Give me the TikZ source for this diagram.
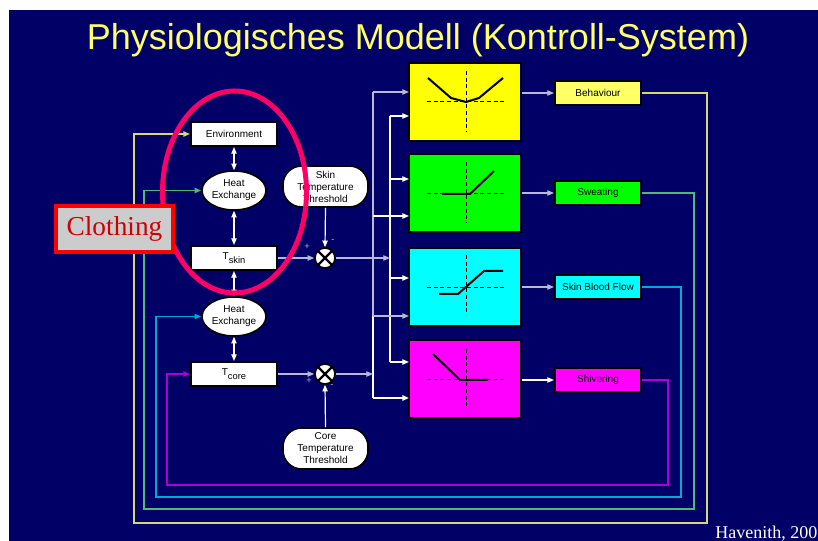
\documentclass[tikz,border=0pt]{standalone}
\usepackage{fontspec}
\setmainfont{Liberation Serif}
\setsansfont{Liberation Sans}
\usetikzlibrary{arrows.meta,shapes.geometric}
\definecolor{navy}{RGB}{0,0,102}
\definecolor{titleyel}{RGB}{255,255,102}
\definecolor{fnyellow}{RGB}{255,255,0}
\definecolor{fngreen}{RGB}{0,255,0}
\definecolor{fncyan}{RGB}{0,255,255}
\definecolor{fnmag}{RGB}{255,0,255}
\definecolor{pinkring}{RGB}{255,0,102}
\definecolor{fbyel}{RGB}{215,215,115}
\definecolor{fbgreen}{RGB}{80,185,120}
\definecolor{fbcyan}{RGB}{0,170,215}
\definecolor{fbmag}{RGB}{170,0,210}
\definecolor{busgray}{RGB}{185,185,215}
\definecolor{clothred}{RGB}{204,0,0}
\definecolor{clothgray}{RGB}{204,204,204}
\definecolor{signgray}{RGB}{170,170,200}
\begin{document}
\begin{tikzpicture}[x=0.75pt,y=-0.75pt,
  lbl/.style={font=\sffamily\fontsize{7.5}{9}\selectfont, text=black, align=center},
  wbox/.style={lbl, draw=black, line width=1.5pt, fill=white, minimum width=64.5pt, minimum height=18pt, inner sep=0pt},
  hex/.style={lbl, ellipse, draw=black, line width=1.2pt, fill=white, minimum width=48pt, minimum height=29.25pt, inner sep=0pt},
  thr/.style={lbl, draw=black, line width=1.2pt, fill=white, rounded corners=14pt, minimum width=63.75pt, minimum height=30.75pt, inner sep=0pt},
  fnbox/.style={draw=black, line width=1.5pt, minimum width=84pt, minimum height=58.5pt, inner sep=0pt},
  obox/.style={lbl, draw=black, line width=1.5pt, minimum width=64.5pt, minimum height=18pt, inner sep=0pt},
  cmp/.style={circle, draw=black, line width=1.2pt, fill=white, minimum size=15pt, inner sep=0pt},
  arr/.style={-{Triangle[length=5pt,width=4pt]}},
  darr/.style={{Triangle[length=5pt,width=4pt]}-{Triangle[length=5pt,width=4pt]}},
  wline/.style={white, line width=0.9pt},
  gline/.style={busgray, line width=0.9pt},
  fbline/.style={line width=1.1pt},
  axisln/.style={black, dash pattern=on 3pt off 2pt, line width=0.75pt},
  fncurve/.style={black, line width=1.5pt, line join=round},
  sign/.style={text=signgray, font=\sffamily\fontsize{7}{7}\selectfont, inner sep=0pt},
]
% background
\fill[white] (0,0) rectangle (818,541);
\fill[navy] (9,10) rectangle (818,541);
\useasboundingbox (0,0) rectangle (818,541);

% title
\node[anchor=base, text=titleyel, font=\sffamily\fontsize{27}{30}\selectfont, inner sep=0pt] (title) at (418,50) {Physiologisches Modell (Kontroll-System)};

% left column nodes
\node[wbox] (env) at (234,134) {Environment};
\node[hex] (he1) at (234,190.5) {Heat\\Exchange};
\node[thr] (sth) at (325.5,186.5) {Skin\\Temperature\\Threshold};
\node[wbox] (tskin) at (234,258) {T\raisebox{-3pt}{\fontsize{7}{8}\selectfont skin}};
\node[hex] (he2) at (234,316.5) {Heat\\Exchange};
\node[wbox] (tcore) at (234,374) {T\raisebox{-3pt}{\fontsize{7}{8}\selectfont core}};
\node[cmp] (c1) at (325,258) {};
\node[cmp] (c2) at (325,374) {};
\node[thr] (cth) at (325.5,448.5) {Core\\Temperature\\Threshold};
\draw[black, line width=1.6pt] (c1.45) -- (c1.225) (c1.135) -- (c1.315);
\draw[black, line width=1.6pt] (c2.45) -- (c2.225) (c2.135) -- (c2.315);

% function boxes
\node[fnbox, fill=fnyellow] (fy) at (465,102) {};
\node[fnbox, fill=fngreen] (fg) at (465,193.5) {};
\node[fnbox, fill=fncyan] (fc) at (465,287) {};
\node[fnbox, fill=fnmag] (fm) at (465,379) {};

% output boxes
\node[obox, fill=titleyel] (ob) at (598,93) {Behaviour};
\node[obox, fill=fngreen] (os) at (598,193) {Sweating};
\node[obox, fill=fncyan] (oc) at (598,287) {Skin Blood Flow};
\node[obox, fill=fnmag] (om) at (598,380) {Shivering};

% function curves
\draw[axisln] (466,71) -- (466,132) (427,102) -- (504,102);
\draw[fncurve] (428,78) -- (451,98) -- (466,102) -- (479,98) -- (503,78);
\draw[axisln] (466,162) -- (466,223) (427,194) -- (504,194);
\draw[fncurve] (442,194) -- (470,194) -- (494,171);
\draw[axisln] (466,255) -- (466,315) (427,288) -- (504,288);
\draw[fncurve] (439,294) -- (458,294) -- (484,271) -- (503,271);
\draw[axisln] (466,349) -- (466,408) (427,380) -- (504,380);
\draw[fncurve] (433,354) -- (460,380) -- (488,380);

% bus coordinates
\coordinate (bus1) at (373,0);
\coordinate (bus2) at (390,0);
\coordinate (fy1) at (409,92);
\coordinate (fy2) at (409,116);
\coordinate (fg2) at (409,179);
\coordinate (fg1) at (409,216);
\coordinate (fc2) at (409,278);
\coordinate (fc1) at (409,316);
\coordinate (fm2) at (409,362);
\coordinate (fm1) at (409,398);

% buses
\draw[gline] (bus1 |- fy1) -- (bus1 |- fc1);
\draw[wline] (bus1 |- fc1) -- (bus1 |- fm1);
\draw[wline] (bus2 |- fy2) -- (bus2 |- fm2);
\draw[gline, arr] (bus1 |- fy1) -- (fy1);
\draw[wline, arr] (bus2 |- fy2) -- (fy2);
\draw[wline, arr] (bus2 |- fg2) -- (fg2);
\draw[wline, arr] (bus1 |- fg1) -- (fg1);
\draw[wline, arr] (bus2 |- fc2) -- (fc2);
\draw[gline, arr] (bus1 |- fc1) -- (fc1);
\draw[wline, arr] (bus2 |- fm2) -- (fm2);
\draw[wline, line width=1.3pt, arr] (bus1 |- fm1) -- (fm1);

% comparator connections
\draw[gline, arr] (tskin.east) -- (c1.west);
\draw[wline, arr] (sth.south) -- (c1.north);
\draw[gline, arr] (c1.east) -- (c1 -| bus2);
\draw[gline, arr] (tcore.east) -- (c2.west);
\draw[wline, arr] (cth.north) -- (c2.south);
\draw[gline, arr] (c2.east) -- (c2 -| bus1);
\node[sign] (p1) at (307,247) {+};
\node[sign] (m1) at (333,241) {-};
\node[sign] (p2) at (309,381) {+};
\node[sign] (m2) at (332,386) {-};

% vertical double arrows
\draw[wline, darr] (env.south) -- (he1.north);
\draw[wline, darr] (he1.south) -- (tskin.north);
\draw[wline, darr] (tskin.south) -- (he2.north);
\draw[wline, darr] (he2.south) -- (tcore.north);

% function box -> outputs
\draw[gline, arr] (fy.east |- ob.west) -- (ob.west);
\draw[gline, arr] (fg.east |- os.west) -- (os.west);
\draw[gline, arr] (fc.east |- oc.west) -- (oc.west);
\draw[wline, arr] (fm.east |- om.west) -- (om.west);

% feedback loops
\coordinate (fbYr) at (707,523);
\coordinate (fbYl) at (134,523);
\coordinate (fbGr) at (694,509);
\coordinate (fbGl) at (144,509);
\coordinate (fbCr) at (681,497);
\coordinate (fbCl) at (156,497);
\coordinate (fbMr) at (668,485);
\coordinate (fbMl) at (167,485);
\draw[fbline, fbyel, arr] (ob.east) -| (fbYr) -- (fbYl) |- (env.west);
\draw[fbline, fbgreen, arr] (os.east) -| (fbGr) -- (fbGl) |- (he1.west);
\draw[fbline, fbcyan, arr] (oc.east) -| (fbCr) -- (fbCl) |- (he2.west);
\draw[fbline, fbmag, arr] (om.east) -| (fbMr) -- (fbMl) |- (tcore.west);

% clothing ring and label
\node[ellipse, draw=pinkring, line width=3.75pt, minimum width=108pt, minimum height=151.5pt, inner sep=0pt] (ring) at (234.5,192) {};
\node[draw=red, line width=3pt, fill=clothgray, text=clothred, font=\fontsize{20.5}{24}\selectfont, minimum width=87.75pt, minimum height=34.5pt, inner sep=0pt] (cloth) at (114.5,229) {Clothing};

% credit
\node[anchor=base west, text=white, font=\fontsize{13.5}{15}\selectfont, inner sep=0pt] (hav) at (715,538) {Havenith, 200};
\end{tikzpicture}
\end{document}
